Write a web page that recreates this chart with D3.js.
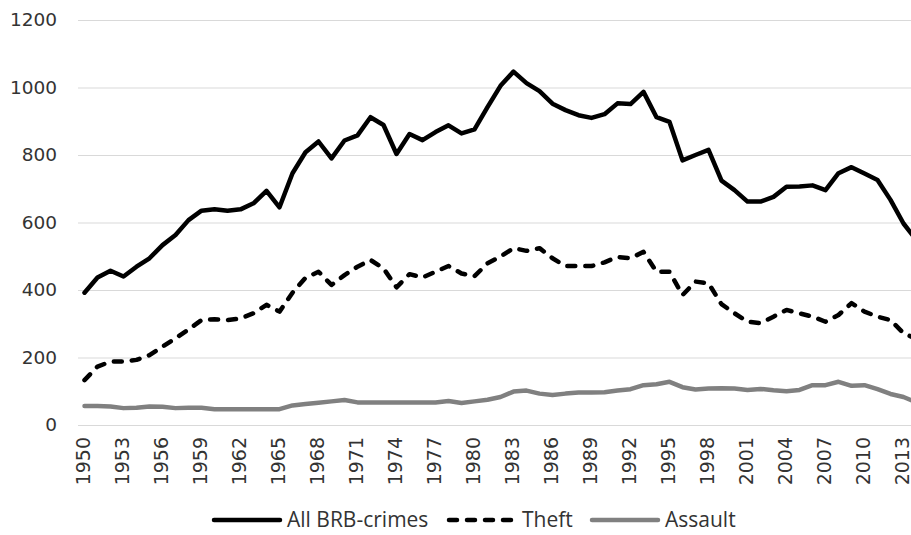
<!doctype html>
<html>
	<head>
		<meta charset="UTF-8">
		<script src="https://d3js.org/d3.v7.min.js"></script>
		<style>
			body { margin: 0; background: #fff; }
			svg { display: block; overflow: hidden; }
			text { font-family: "Open Sans", sans-serif; fill: #333; }
		</style>
	</head>
	<body>
		<script>
			// years on the category axis (last one is cut off by the picture edge)
			const years = d3.range(1950, 2015);

			const allCrimes = [
				392, 437, 457, 440, 469, 494, 533, 563, 607, 635,
				639, 635, 639, 657, 694, 645, 746, 808, 840, 790,
				843, 858, 912, 889, 803, 862, 844, 868, 888, 864,
				876, 942, 1005, 1047, 1013, 989, 952, 933, 918, 910,
				921, 953, 951, 987, 912, 898, 784, 800, 815, 724,
				696, 662, 662, 676, 706, 707, 710, 696, 746, 764,
				745, 726, 667, 597, 548
			];

			const theft = [
				133, 173, 188, 188, 193, 207, 232, 257, 283, 311,
				313, 311, 316, 331, 356, 336, 392, 436, 454, 415,
				444, 469, 489, 464, 408, 447, 437, 454, 471, 449,
				441, 479, 499, 524, 516, 524, 494, 471, 471, 471,
				482, 498, 494, 513, 454, 454, 385, 425, 420, 358,
				331, 306, 302, 321, 341, 331, 321, 306, 326, 361,
				336, 321, 311, 272, 255
			];

			const assault = [
				56, 56, 55, 50, 51, 55, 54, 50, 51, 51,
				47, 47, 47, 47, 47, 47, 58, 62, 66, 70,
				74, 67, 67, 67, 67, 67, 67, 67, 71, 65,
				70, 75, 83, 99, 102, 93, 89, 93, 96, 96,
				97, 102, 106, 118, 121, 128, 112, 105, 108, 109,
				108, 104, 107, 103, 100, 104, 118, 118, 128, 116,
				118, 106, 92, 83, 67
			];

			const yTicks = [0, 200, 400, 600, 800, 1000, 1200];
			const seriesNames = ["All BRB-crimes", "Theft", "Assault"];

			(function(){
				const W = 911, H = 535;
				const plotLeft = 78, plotTop = 20, plotBottom = 425;

				const svg = d3.select("body").append("svg")
					.attr("width", W)
					.attr("height", H);

				const x = d3.scalePoint()
					.domain(years)
					.range([plotLeft, plotLeft + years.length * 13])
					.padding(0.5);

				const y = d3.scaleLinear()
					.domain([0, 1200])
					.range([plotBottom, plotTop]);

				// gridlines
				svg.append("g")
					.selectAll("line")
					.data(yTicks)
					.enter().append("line")
					.attr("x1", plotLeft)
					.attr("x2", W)
					.attr("y1", d => y(d) + 0.5)
					.attr("y2", d => y(d) + 0.5)
					.attr("stroke", "#d9d9d9")
					.attr("stroke-width", 1);

				// y axis labels
				const yAxis = svg.append("g")
					.attr("transform", "translate(" + plotLeft + ",0)")
					.call(d3.axisLeft(y).tickValues(yTicks).tickFormat(d3.format("d")).tickSize(0).tickPadding(21));
				yAxis.select(".domain").remove();
				yAxis.selectAll("text")
					.style("font-family", "'DejaVu Sans', sans-serif")
					.style("font-size", "18.5px")
					.attr("fill", "#333");

				// x axis labels, rotated
				const xAxis = svg.append("g")
					.attr("transform", "translate(0," + plotBottom + ")")
					.call(d3.axisBottom(x).tickValues(years.filter((d, i) => i % 3 === 0)).tickSize(0));
				xAxis.select(".domain").remove();
				xAxis.selectAll("text")
					.attr("transform", "rotate(-90)")
					.attr("x", -12)
					.attr("y", -2)
					.attr("dy", "0.36em")
					.style("text-anchor", "end")
					.style("font-family", "'DejaVu Sans', sans-serif")
					.style("font-size", "19px")
					.attr("fill", "#333");

				const series = [
					{ name: seriesNames[0], values: allCrimes, color: "#000", dash: null },
					{ name: seriesNames[1], values: theft, color: "#000", dash: "8,10" },
					{ name: seriesNames[2], values: assault, color: "#808080", dash: null }
				];

				const line = d3.line()
					.x((d, i) => x(years[i]))
					.y(d => y(d));

				svg.append("g")
					.selectAll("path")
					.data(series.slice().reverse())
					.enter().append("path")
					.attr("d", d => line(d.values))
					.attr("fill", "none")
					.attr("stroke", d => d.color)
					.attr("stroke-width", 4.5)
					.attr("stroke-linejoin", "round")
					.attr("stroke-linecap", "round")
					.attr("stroke-dasharray", d => d.dash);

				// legend
				const legendPos = [212, 447, 590];
				const legend = svg.append("g")
					.attr("transform", "translate(0,520)");

				const items = legend.selectAll("g")
					.data(series)
					.enter().append("g")
					.attr("transform", (d, i) => "translate(" + legendPos[i] + ",0)");

				items.append("line")
					.attr("x1", 2)
					.attr("x2", 68)
					.attr("y1", 0)
					.attr("y2", 0)
					.attr("stroke", d => d.color)
					.attr("stroke-width", 4.5)
					.attr("stroke-linecap", "round")
					.attr("stroke-dasharray", d => d.dash);

				items.append("text")
					.attr("x", 75)
					.attr("y", 0)
					.attr("dy", "0.35em")
					.style("font-size", "21px")
					.text(d => d.name);
			})();
		</script>
	</body>
</html>
